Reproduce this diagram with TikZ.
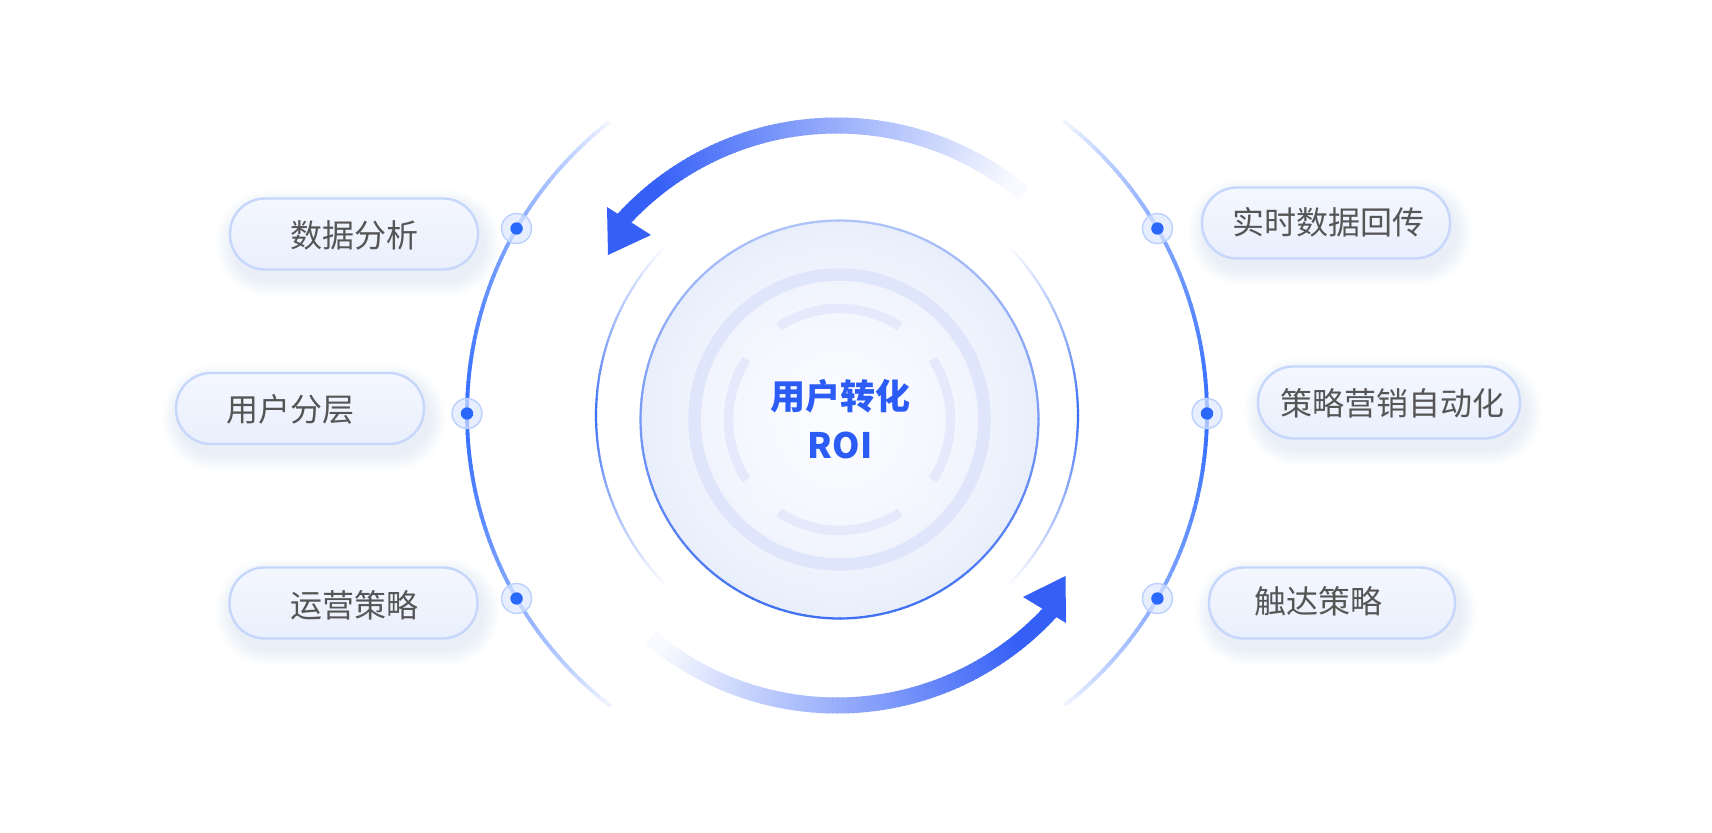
\documentclass[tikz,border=0pt]{standalone}
\usepackage{fontspec}
\newfontfamily\cjk{Noto Sans CJK SC}
\definecolor{arrowblue}{HTML}{3560F7}
\definecolor{outerblue}{HTML}{2F6BFF}
\definecolor{ringblue}{HTML}{3B6EF5}
\definecolor{iborder}{HTML}{3F70F2}
\definecolor{thickring}{HTML}{DFE6FB}
\definecolor{thinring}{HTML}{E4EAFC}
\definecolor{centertext}{HTML}{2C5CF6}
\definecolor{labeltext}{HTML}{555555}
\definecolor{pilltop}{HTML}{F4F7FE}
\definecolor{pillbot}{HTML}{E9EFFD}
\definecolor{pillborder}{HTML}{C6D7FB}
\definecolor{shadowc}{HTML}{B8C8F0}
\definecolor{dotblue}{HTML}{2A68FB}
\definecolor{halo}{HTML}{DCE7FF}
\definecolor{haloborder}{HTML}{BCD0FE}
\definecolor{fillin}{HTML}{FBFCFF}
\definecolor{fillout}{HTML}{E9EEFC}
\newcommand\pillshadow[4]{%
  \foreach \i in {1,...,8}{
    \pgfmathsetmacro\xa{#1-#3/2-\i*2.2+4}
    \pgfmathsetmacro\xb{#1+#3/2+\i*2.2+4}
    \pgfmathsetmacro\ya{#2-#4/2-\i*2.2-9}
    \pgfmathsetmacro\yb{#2+#4/2+\i*2.2-9}
    \pgfmathsetmacro\rr{(#4/2+\i*2.2)*0.49}
    \fill[shadowc, fill opacity=0.035, rounded corners=\rr pt] (\xa,\ya) rectangle (\xb,\yb);
  }%
}
\begin{document}
\begin{tikzpicture}[x=0.5pt,y=0.5pt,
  pill/.style={draw=pillborder, line width=1.2pt, rounded corners=17.5pt,
    minimum height=35.5pt, top color=pilltop, bottom color=pillbot, inner sep=0pt},
  lbl/.style={text=labeltext, font=\cjk\fontsize{16pt}{19pt}\selectfont, inner sep=0pt},
  ctext/.style={text=centertext, font=\cjk\bfseries\fontsize{17.5pt}{20pt}\selectfont, inner sep=0pt},
  halodot/.style={circle, fill=halo, fill opacity=0.7, draw=haloborder, line width=0.7pt, minimum size=15pt, inner sep=0pt},
  coredot/.style={circle, fill=dotblue, minimum size=6.2pt, inner sep=0pt}
]
\useasboundingbox (0,0) rectangle (1712,832);
\fill[white] (0,0) rectangle (1712,832);
\coordinate (O) at (837,416.5);
\coordinate (OC) at (837,418.5);
\coordinate (IC) at (839.5,412.5);

% ---- pill shadows
\pillshadow{354}{598}{248}{71}
\pillshadow{300}{423.5}{248}{71}
\pillshadow{353.5}{229}{248}{71}
\pillshadow{1326}{609}{248}{71}
\pillshadow{1389}{429.5}{262}{72}
\pillshadow{1332}{229}{246}{71}

% ---- pills
\node[pill, minimum width=124pt] (p1) at (354,598) {};
\node[pill, minimum width=124pt] (p2) at (300,423.5) {};
\node[pill, minimum width=124pt] (p3) at (353.5,229) {};
\node[pill, minimum width=124pt] (p4) at (1326,609) {};
\node[pill, minimum width=131pt, minimum height=36pt, rounded corners=17.8pt] (p5) at (1389,429.5) {};
\node[pill, minimum width=123pt] (p6) at (1332,229) {};

\node[lbl] (l1) at (354,597) {数据分析};
\node[lbl] (l2) at (290,423) {用户分层};
\node[lbl] (l3) at (354,227) {运营策略};
\node[lbl] (l4) at (1328,610) {实时数据回传};
\node[lbl] (l5) at (1392.5,428.7) {策略营销自动化};
\node[lbl] (l6) at (1318,231) {触达策略};

% ---- outer circle arcs
\begin{scope}[shift={(OC)}]
  \foreach \a in {128,...,231}{
    \pgfmathsetmacro\pp{100*(max(0.02,1-abs(\a+0.5-180)/52))^0.65}
    \draw[line width=1.9pt, draw=outerblue!\pp!white] (\a:370) -- (\a+1.25:370);
  }
  \foreach \a in {-52,...,51}{
    \pgfmathsetmacro\pp{100*(max(0.02,1-abs(\a+0.5)/52))^0.65}
    \draw[line width=1.9pt, draw=outerblue!\pp!white] (\a:370) -- (\a+1.25:370);
  }
  \foreach \n/\ang in {d1/150,d2/180,d3/210,d4/30,d5/0,d6/-30}{
    \node[halodot] (h\n) at (\ang:370) {};
    \node[coredot] (\n) at (\ang:370) {};
  }
\end{scope}

% ---- ring arcs around the disc
\begin{scope}[shift={(O)}]
  \foreach \a in {134,...,225}{
    \pgfmathsetmacro\pp{100*(max(0.02,1-abs(\a+0.5-180)/46))^1.1}
    \draw[line width=1.1pt, draw=ringblue!\pp!white] (\a:241) -- (\a+1.25:241);
  }
  \foreach \a in {-46,...,45}{
    \pgfmathsetmacro\pp{100*(max(0.02,1-abs(\a+0.5)/46))^1.1}
    \draw[line width=1.1pt, draw=ringblue!\pp!white] (\a:241) -- (\a+1.25:241);
  }
\end{scope}

% ---- central disc
\begin{scope}[shift={(IC)}]
  \foreach \i in {40,39,...,1}{
    \pgfmathsetmacro\pp{100*((\i/40)^1.6)}
    \fill[fillout!\pp!fillin] (0,0) circle[radius=\i*4.975];
  }
  \draw[thickring, line width=6.25pt] (0,0) circle[radius=145];
  \draw[thinring, line width=4.75pt] (57:111) arc[start angle=57, end angle=123, radius=55.5pt];
  \draw[thinring, line width=4.75pt] (147:111) arc[start angle=147, end angle=213, radius=55.5pt];
  \draw[thinring, line width=4.75pt] (237:111) arc[start angle=237, end angle=303, radius=55.5pt];
  \draw[thinring, line width=4.75pt] (-33:111) arc[start angle=-33, end angle=33, radius=55.5pt];
  \foreach \a in {0,2,...,358}{
    \pgfmathsetmacro\pp{42+58*(1-sin(\a+1))/2}
    \draw[line width=1.1pt, draw=iborder!\pp!white] (\a:199) -- (\a+2.3:199);
  }
\end{scope}

% ---- circular arrows
\begin{scope}[shift={(O)}]
  \foreach \a in {50,...,139}{
    \pgfmathsetmacro\pp{max(3,min(100,(\a-50)/78*100))}
    \draw[line width=8pt, draw=arrowblue!\pp!white] (\a:290) -- (\a+1.3:290);
  }
  \foreach \a in {230,...,319}{
    \pgfmathsetmacro\pp{max(3,min(100,(\a-230)/78*100))}
    \draw[line width=8pt, draw=arrowblue!\pp!white] (\a:290) -- (\a+1.3:290);
  }
\end{scope}
\fill[arrowblue] (607,625) -- (651,597) -- (608,577) -- cycle;
\fill[arrowblue] (1066,209) -- (1023,235) -- (1065.5,256) -- cycle;

% ---- centre text
\node[ctext] (title) at (840,435.3) {用户转化};
\node[ctext] (roi) at (840,387) {ROI};
\end{tikzpicture}
\end{document}
